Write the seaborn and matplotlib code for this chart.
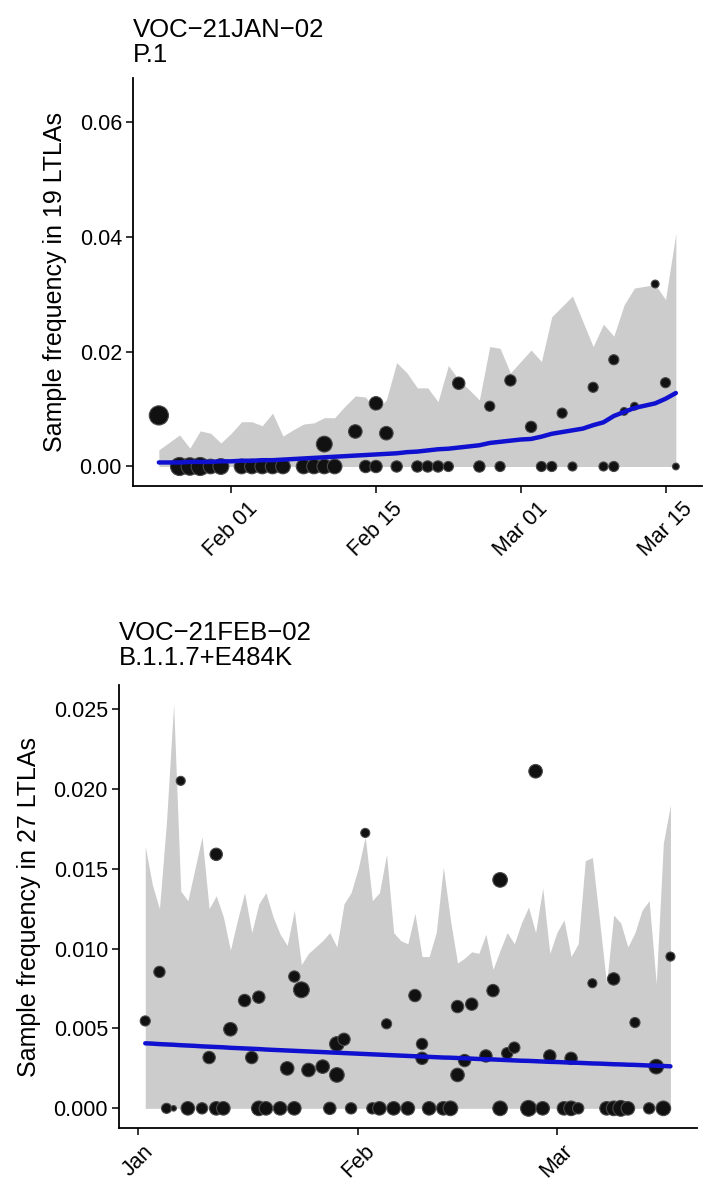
import numpy as np
import pandas as pd
import matplotlib
matplotlib.use("Agg")
import matplotlib.pyplot as plt
import matplotlib.dates as mdates
import matplotlib.transforms as mtransforms
from matplotlib.ticker import FixedLocator, FormatStrFormatter
import seaborn as sns

# ---------------- Panel 1 : VOC-21JAN-02 / P.1 ----------------
p1_title = "VOC\u221221JAN\u221202\nP.1"
p1_ylabel = "Sample frequency in 19 LTLAs"
p1_start = "2021-01-25"
p1_upper = [0.0029, 0.0042, 0.0055, 0.0032, 0.0062, 0.0058, 0.0041, 0.0058, 0.0078, 0.0078,
            0.0071, 0.0093, 0.0053, 0.0064, 0.0074, 0.0076, 0.0085, 0.0085, 0.0105, 0.0123,
            0.0121, 0.0096, 0.0116, 0.0181, 0.0163, 0.0137, 0.0137, 0.0113, 0.0176, 0.0151,
            0.0134, 0.0116, 0.0209, 0.0206, 0.0163, 0.0183, 0.0203, 0.0183, 0.0261, 0.0279,
            0.0297, 0.0253, 0.0209, 0.0248, 0.0227, 0.0282, 0.0311, 0.0314, 0.0317, 0.0291,
            0.0406]
p1_fit = [0.0007, 0.0007, 0.0007, 0.0008, 0.0008, 0.0008, 0.0009, 0.0009, 0.0010, 0.0010,
          0.0011, 0.0011, 0.0012, 0.0013, 0.0014, 0.0015, 0.0016, 0.0017, 0.0018, 0.0019,
          0.0020, 0.0021, 0.0022, 0.0023, 0.0025, 0.0026, 0.0028, 0.0030, 0.0031, 0.0033,
          0.0035, 0.0037, 0.0041, 0.0043, 0.0045, 0.0047, 0.0048, 0.0052, 0.0057, 0.0060,
          0.0063, 0.0066, 0.0072, 0.0077, 0.0088, 0.0095, 0.0102, 0.0106, 0.0110, 0.0118,
          0.0128]
p1_pt_dates = ["2021-01-25", "2021-02-10", "2021-02-13", "2021-02-15", "2021-02-16", "2021-02-23",
               "2021-02-26", "2021-02-28", "2021-03-02", "2021-03-05", "2021-03-08", "2021-03-10",
               "2021-03-11", "2021-03-12", "2021-03-14", "2021-03-15",
               "2021-01-27", "2021-01-28", "2021-01-29", "2021-01-30", "2021-01-31",
               "2021-02-02", "2021-02-03", "2021-02-04", "2021-02-05", "2021-02-06",
               "2021-02-08", "2021-02-09", "2021-02-10", "2021-02-11",
               "2021-02-14", "2021-02-15", "2021-02-17", "2021-02-19", "2021-02-20",
               "2021-02-21", "2021-02-22", "2021-02-25", "2021-02-27", "2021-03-03",
               "2021-03-04", "2021-03-06", "2021-03-09", "2021-03-10", "2021-03-16"]
p1_pt_freq = [0.0089, 0.0039, 0.0061, 0.0110, 0.0058, 0.0145,
              0.0105, 0.0150, 0.0069, 0.0093, 0.0138, 0.0186,
              0.0096, 0.0105, 0.0318, 0.0146,
              0, 0, 0, 0, 0,
              0, 0, 0, 0, 0,
              0, 0, 0, 0,
              0, 0, 0, 0, 0,
              0, 0, 0, 0, 0,
              0, 0, 0, 0, 0]
p1_pt_n = [72, 49, 36, 36, 36, 30,
           20, 25, 25, 20, 20, 20,
           12, 12, 12, 20,
           64, 60, 64, 42, 49,
           42, 42, 42, 42, 42,
           42, 42, 42, 42,
           30, 30, 25, 25, 25,
           25, 20, 25, 20, 20,
           20, 16, 16, 20, 9]

# ---------------- Panel 2 : VOC-21FEB-02 / B.1.1.7+E484K ----------------
p2_title = "VOC\u221221FEB\u221202\nB.1.1.7+E484K"
p2_ylabel = "Sample frequency in 27 LTLAs"
p2_start = "2021-01-02"
p2_upper = [0.0164, 0.0140, 0.0125, 0.0180, 0.0253, 0.0136, 0.0130, 0.0150, 0.0170, 0.0125,
            0.0133, 0.0120, 0.0099, 0.0118, 0.0135, 0.0110, 0.0128, 0.0135, 0.0120, 0.0109,
            0.0102, 0.0124, 0.0090, 0.0097, 0.0101, 0.0105, 0.0110, 0.0101, 0.0128, 0.0135,
            0.0150, 0.0170, 0.0130, 0.0135, 0.0159, 0.0110, 0.0105, 0.0103, 0.0122, 0.0095,
            0.0095, 0.0110, 0.0151, 0.0118, 0.0091, 0.0094, 0.0098, 0.0097, 0.0109, 0.0087,
            0.0099, 0.0110, 0.0103, 0.0116, 0.0126, 0.0110, 0.0138, 0.0097, 0.0110, 0.0118,
            0.0095, 0.0103, 0.0155, 0.0157, 0.0118, 0.0078, 0.0121, 0.0116, 0.0101, 0.0110,
            0.0124, 0.0130, 0.0078, 0.0166, 0.0190]
p2_fit = [0.00407, 0.00405, 0.00402, 0.00400, 0.00398, 0.00395, 0.00393, 0.00391, 0.00388, 0.00386,
          0.00384, 0.00382, 0.00379, 0.00377, 0.00375, 0.00373, 0.00371, 0.00368, 0.00366, 0.00364,
          0.00362, 0.00360, 0.00358, 0.00356, 0.00354, 0.00352, 0.00350, 0.00348, 0.00346, 0.00344,
          0.00342, 0.00340, 0.00338, 0.00336, 0.00334, 0.00332, 0.00330, 0.00328, 0.00326, 0.00324,
          0.00322, 0.00320, 0.00318, 0.00317, 0.00315, 0.00313, 0.00311, 0.00309, 0.00307, 0.00306,
          0.00304, 0.00302, 0.00300, 0.00298, 0.00297, 0.00295, 0.00293, 0.00291, 0.00290, 0.00288,
          0.00286, 0.00285, 0.00283, 0.00281, 0.00280, 0.00278, 0.00276, 0.00275, 0.00273, 0.00272,
          0.00270, 0.00268, 0.00267, 0.00265, 0.00263]
p2_pt_dates = ["2021-01-02", "2021-01-04", "2021-01-07", "2021-01-11", "2021-01-12", "2021-01-14",
               "2021-01-16", "2021-01-17", "2021-01-18", "2021-01-22", "2021-01-23", "2021-01-24",
               "2021-01-25", "2021-01-27", "2021-01-29", "2021-01-29", "2021-01-30", "2021-02-02",
               "2021-02-05", "2021-02-09", "2021-02-10", "2021-02-10", "2021-02-15", "2021-02-15",
               "2021-02-16", "2021-02-17", "2021-02-19", "2021-02-20", "2021-02-21", "2021-02-22",
               "2021-02-23", "2021-02-26", "2021-02-28", "2021-03-03", "2021-03-06", "2021-03-09",
               "2021-03-12", "2021-03-15", "2021-03-17",
               "2021-01-05", "2021-01-06", "2021-01-08", "2021-01-10", "2021-01-12", "2021-01-13",
               "2021-01-18", "2021-01-19", "2021-01-21", "2021-01-23", "2021-01-28", "2021-01-31",
               "2021-02-03", "2021-02-04", "2021-02-06", "2021-02-08", "2021-02-11", "2021-02-13",
               "2021-02-14", "2021-02-21", "2021-02-25", "2021-02-27", "2021-03-02", "2021-03-03",
               "2021-03-04", "2021-03-08", "2021-03-09", "2021-03-10", "2021-03-11", "2021-03-14",
               "2021-03-16"]
p2_pt_freq = [0.00547, 0.00854, 0.0205, 0.00318, 0.0159, 0.00495,
              0.00675, 0.00318, 0.00696, 0.0025, 0.00825, 0.00742,
              0.0024, 0.00261, 0.00209, 0.00403, 0.00432, 0.01724,
              0.00529, 0.00706, 0.00403, 0.00313, 0.00637, 0.00209,
              0.00299, 0.00652, 0.00328, 0.00737, 0.0143, 0.00345,
              0.0038, 0.0211, 0.00328, 0.00313, 0.00783, 0.0081,
              0.00537, 0.00261, 0.0095,
              0, 0, 0, 0, 0, 0,
              0, 0, 0, 0, 0, 0,
              0, 0, 0, 0, 0, 0,
              0, 0, 0, 0, 0, 0,
              0, 0, 0, 0, 0, 0,
              0]
p2_pt_n = [20, 25, 16, 30, 30, 36,
           30, 30, 30, 36, 25, 49,
           36, 36, 42, 42, 30, 16,
           20, 30, 25, 30, 30, 36,
           30, 30, 30, 30, 42, 25,
           25, 36, 30, 30, 16, 30,
           20, 42, 16,
           20, 6, 36, 25, 36, 36,
           42, 36, 36, 36, 30, 25,
           25, 36, 36, 36, 36, 36,
           42, 42, 49, 36, 36, 42,
           25, 36, 42, 49, 36, 25,
           42]

# ---------------- styling ----------------
sns.set_style("ticks")
plt.rcParams['font.family'] = ['Liberation Sans', 'DejaVu Sans']
plt.rcParams['text.color'] = 'black'
plt.rcParams['axes.labelcolor'] = 'black'

RIBBON = "#CCCCCC"
LINE = "#1010D0"
PT_FACE = "#111111"
PT_EDGE = "#4a4a4a"

fig = plt.figure(figsize=(7.25, 12), dpi=100)
W, H = 725.0, 1200.0


def axes_px(left, top, right, bottom):
    return fig.add_axes([left / W, 1 - bottom / H, (right - left) / W, (bottom - top) / H])


ax1 = axes_px(133, 78, 701.7, 486)
ax2 = axes_px(119, 685, 696.7, 1128.3)


def draw_panel(ax, start, upper, fit, pt_dates, pt_freq, pt_n, title, ylabel,
               ylim, yticks, yfmt, xticks, xfmt, ylab_x, title_off):
    dates = pd.date_range(start, periods=len(upper), freq="D")
    ax.fill_between(dates, np.zeros(len(upper)), upper, color=RIBBON, linewidth=0, zorder=1)
    pts = pd.DataFrame({"date": pd.to_datetime(pt_dates), "freq": pt_freq, "n": pt_n})
    sns.scatterplot(data=pts, x="date", y="freq", size="n", sizes=(0, 265), size_norm=(0, 100),
                    color=PT_FACE, edgecolor=PT_EDGE, linewidth=0.8, legend=False, ax=ax, zorder=3)
    fitdf = pd.DataFrame({"date": dates, "fit": fit})
    sns.lineplot(data=fitdf, x="date", y="fit", color=LINE, linewidth=3.2, ax=ax, zorder=4)

    d0 = mdates.date2num(dates[0])
    d1 = mdates.date2num(dates[-1])
    pad = 0.05 * (d1 - d0)
    ax.set_xlim(d0 - pad, d1 + pad)
    ax.set_ylim(*ylim)
    ax.yaxis.set_major_locator(FixedLocator(yticks))
    ax.yaxis.set_major_formatter(FormatStrFormatter(yfmt))
    ax.xaxis.set_major_locator(FixedLocator(mdates.date2num(pd.to_datetime(xticks))))
    ax.xaxis.set_major_formatter(mdates.DateFormatter(xfmt))

    for s in ["top", "right"]:
        ax.spines[s].set_visible(False)
    for s in ["left", "bottom"]:
        ax.spines[s].set_linewidth(1.3)
        ax.spines[s].set_color("black")
    ax.tick_params(axis="both", length=5, width=1.1, color="black", labelcolor="black")
    ax.tick_params(axis="y", labelsize=15.5, pad=3)
    ax.tick_params(axis="x", labelsize=15.5, pad=4)
    for lab in ax.get_xticklabels():
        lab.set_rotation(45)
        lab.set_ha("center")
        lab.set_va("top")

    ax.set_xlabel("")
    ax.set_ylabel(ylabel, fontsize=18, color="black")
    ax.yaxis.set_label_coords(ylab_x, 0.5)

    trans = mtransforms.offset_copy(ax.transAxes, fig=fig, x=0, y=title_off, units="points")
    ax.text(0, 1, title, transform=trans, ha="left", va="bottom", fontsize=18.5,
            linespacing=1.05, color="black")
    ax.grid(False)


draw_panel(ax1, p1_start, p1_upper, p1_fit, p1_pt_dates, p1_pt_freq, p1_pt_n,
           p1_title, p1_ylabel, (-0.0034, 0.0677), [0.0, 0.02, 0.04, 0.06], "%.2f",
           ["2021-02-01", "2021-02-15", "2021-03-01", "2021-03-15"], "%b %d", -0.1166, 8)

draw_panel(ax2, p2_start, p2_upper, p2_fit, p2_pt_dates, p2_pt_freq, p2_pt_n,
           p2_title, p2_ylabel, (-0.00125, 0.0265),
           [0.0, 0.005, 0.010, 0.015, 0.020, 0.025], "%.3f",
           ["2021-01-01", "2021-02-01", "2021-03-01"], "%b", -0.1355, 11)

fig.savefig("out.png", dpi=100, facecolor="white")
